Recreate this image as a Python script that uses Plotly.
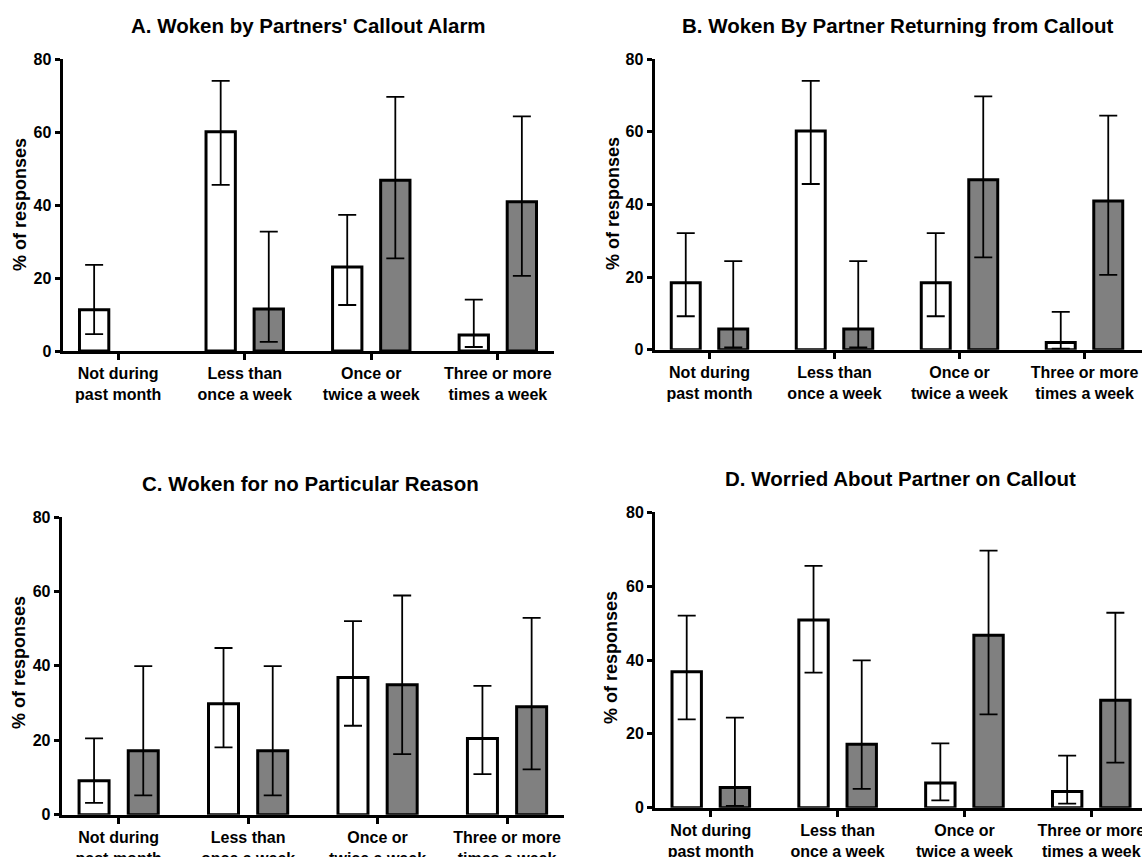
import plotly.graph_objects as go

categories = ["Not during<br>past month", "Less than<br>once a week", "Once or<br>twice a week", "Three or more<br>times a week"]
titles = ["A. Woken by Partners' Callout Alarm", "B. Woken By Partner Returning from Callout",
          "C. Woken for no Particular Reason", "D. Worried About Partner on Callout"]

# Panel A
a_white = [11.3, 60.1, 23.0, 4.4]
a_white_hi = [23.6, 74.0, 37.3, 14.1]
a_white_lo = [4.6, 45.5, 12.6, 1.1]
a_gray = [None, 11.5, 46.8, 40.9]
a_gray_hi = [None, 32.7, 69.6, 64.3]
a_gray_lo = [None, 2.5, 25.4, 20.6]
# Panel B
b_white = [18.4, 60.2, 18.4, 2.0]
b_white_hi = [32.1, 74.0, 32.1, 10.4]
b_white_lo = [9.2, 45.6, 9.2, 0.3]
b_gray = [5.7, 5.7, 46.8, 40.9]
b_gray_hi = [24.4, 24.4, 69.7, 64.4]
b_gray_lo = [0.6, 0.6, 25.4, 20.6]
# Panel C
c_white = [9.1, 29.8, 36.9, 20.5]
c_white_hi = [20.5, 44.8, 52.0, 34.6]
c_white_lo = [3.2, 18.1, 23.9, 10.9]
c_gray = [17.2, 17.2, 34.9, 29.0]
c_gray_hi = [39.9, 39.9, 58.9, 52.9]
c_gray_lo = [5.2, 5.2, 16.3, 12.2]
# Panel D
d_white = [36.8, 50.8, 6.7, 4.4]
d_white_hi = [52.0, 65.5, 17.4, 14.1]
d_white_lo = [23.9, 36.6, 2.0, 1.1]
d_gray = [5.5, 17.2, 46.7, 29.1]
d_gray_hi = [24.4, 39.9, 69.6, 52.8]
d_gray_lo = [0.5, 5.1, 25.3, 12.2]

yticks = [0, 20, 40, 60, 80]

panels = [
    (a_white, a_white_hi, a_white_lo, a_gray, a_gray_hi, a_gray_lo),
    (b_white, b_white_hi, b_white_lo, b_gray, b_gray_hi, b_gray_lo),
    (c_white, c_white_hi, c_white_lo, c_gray, c_gray_hi, c_gray_lo),
    (d_white, d_white_hi, d_white_lo, d_gray, d_gray_hi, d_gray_lo),
]

W, H = 1142, 857
# pixel geometry: (x_axis_left, x_axis_right, y80_px, y0_px, xrange_end)
geom = [
    (62.5, 553.5, 59, 351, 3.44),
    (654.5, 1142, 59, 349.7, 3.46),
    (61.7, 564, 517, 814.7, 3.44),
    (655, 1142, 512.3, 807.7, 3.40),
]
title_pos = [(308, 25), (897, 25), (310, 483), (900, 479)]
ytitle_pos = [(20, 205), (613, 204), (19, 663), (611, 658)]

FONT = "Arial, 'Liberation Sans', Helvetica, sans-serif"

def err(vals, hi, lo):
    plus = [None if v is None else h - v for v, h in zip(vals, hi)]
    minus = [None if v is None else v - l for v, l in zip(vals, lo)]
    return plus, minus

fig = go.Figure()
layout = dict(width=W, height=H, margin=dict(l=0, r=0, t=0, b=0, autoexpand=False),
              plot_bgcolor="white", paper_bgcolor="white", showlegend=False,
              barmode="group", bargap=0.24, bargroupgap=0.39,
              font=dict(family=FONT, color="black"))
annotations = []
for i, (wv, wh, wl, gv, gh, gl) in enumerate(panels):
    xa = "x" if i == 0 else f"x{i+1}"
    ya = "y" if i == 0 else f"y{i+1}"
    wp, wm = err(wv, wh, wl)
    gp, gm = err(gv, gh, gl)
    fig.add_trace(go.Bar(x=categories, y=wv, xaxis=xa, yaxis=ya, offsetgroup="w",
                         marker=dict(color="white", line=dict(color="black", width=3)),
                         error_y=dict(type="data", array=wp, arrayminus=wm, symmetric=False,
                                      color="black", thickness=1.8, width=9)))
    fig.add_trace(go.Bar(x=categories, y=gv, xaxis=xa, yaxis=ya, offsetgroup="g",
                         marker=dict(color="#808080", line=dict(color="black", width=3)),
                         error_y=dict(type="data", array=gp, arrayminus=gm, symmetric=False,
                                      color="black", thickness=1.8, width=9)))
    x0, x1, y80, y0, xend = geom[i]
    xk = "xaxis" if i == 0 else f"xaxis{i+1}"
    yk = "yaxis" if i == 0 else f"yaxis{i+1}"
    layout[xk] = dict(domain=[x0 / W, min(x1 / W, 1.0)], anchor=ya, type="category",
                      range=[-0.44, xend], showline=True, linecolor="black", linewidth=3,
                      ticks="outside", ticklen=6, tickwidth=2.5, tickcolor="black",
                      showgrid=False, zeroline=False, automargin=False,
                      tickfont=dict(family=FONT, size=16, color="black", weight="bold"))
    layout[yk] = dict(domain=[1 - y0 / H, 1 - y80 / H], anchor=xa, range=[0, 80],
                      tickvals=yticks, showline=True, linecolor="black", linewidth=3,
                      ticks="outside", ticklen=5, tickwidth=2.5, tickcolor="black",
                      showgrid=False, zeroline=False, automargin=False,
                      tickfont=dict(family=FONT, size=16, color="black", weight="bold"))
    tx, ty = title_pos[i]
    annotations.append(dict(text=f"<b>{titles[i]}</b>", x=tx / W, y=1 - ty / H, xref="paper", yref="paper",
                            showarrow=False, xanchor="center", yanchor="middle",
                            font=dict(family=FONT, size=20.5, color="black")))
    yx, yy = ytitle_pos[i]
    annotations.append(dict(text="<b>% of responses</b>", x=yx / W, y=1 - yy / H, xref="paper", yref="paper",
                            showarrow=False, xanchor="center", yanchor="middle", textangle=-90,
                            font=dict(family=FONT, size=18, color="black")))
layout["annotations"] = annotations
fig.update_layout(**layout)
fig.write_html("out.html", config={"displayModeBar": False},
               post_script="document.body.style.margin='0';document.body.style.overflow='hidden';")
